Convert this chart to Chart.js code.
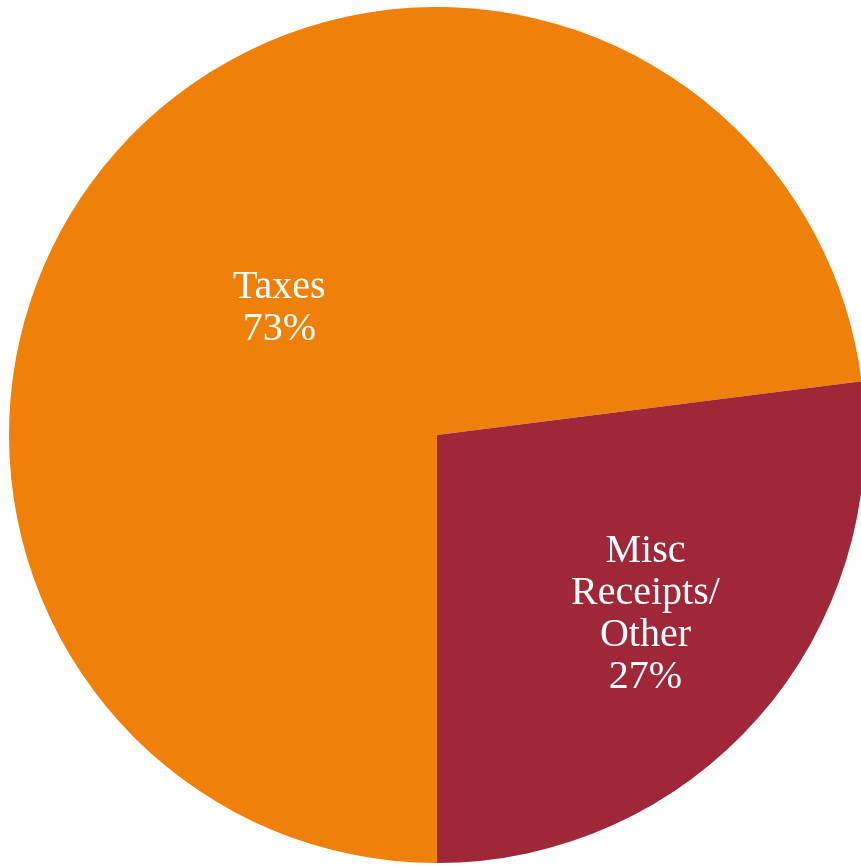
<!DOCTYPE html>
<html>
<head>
<meta charset="utf-8">
<script src="https://cdn.jsdelivr.net/npm/chart.js@4.4.1/dist/chart.umd.min.js"></script>
<style>
  html, body { margin: 0; padding: 0; background: #fff; overflow: hidden; }
  #wrap { position: absolute; left: 0; top: 0; width: 874px; height: 870px; }
</style>
</head>
<body>
<div id="wrap"><canvas id="pieChart"></canvas></div>
<script>
const categories = ['Taxes', 'Misc Receipts/Other'];
const labelLines = [['Taxes', '73%'], ['Misc', 'Receipts/', 'Other', '27%']];
const shares = [73, 27];
const sliceColors = ['#EF800A', '#A02738'];

// label distance from centre (fraction of radius) and a small pixel nudge
const labelRadius = [0.485, 0.64];
const labelNudge = [[-2, 8], [3, -4]];

const insideLabels = {
  id: 'insideLabels',
  afterDatasetsDraw(chart) {
    const ctx = chart.ctx;
    const meta = chart.getDatasetMeta(0);
    ctx.save();
    ctx.fillStyle = '#ffffff';
    ctx.font = '40px "Liberation Serif", serif';
    ctx.textAlign = 'center';
    ctx.textBaseline = 'alphabetic';
    const lineH = 42;
    const capHalf = 13;
    meta.data.forEach((arc, i) => {
      const p = arc.getProps(['x', 'y', 'startAngle', 'endAngle', 'outerRadius'], true);
      const mid = (p.startAngle + p.endAngle) / 2;
      const r = p.outerRadius * labelRadius[i];
      const cx = p.x + Math.cos(mid) * r + labelNudge[i][0];
      const cy = p.y + Math.sin(mid) * r + labelNudge[i][1];
      const lines = labelLines[i];
      const first = cy + capHalf - (lines.length - 1) * lineH / 2;
      lines.forEach((t, k) => ctx.fillText(t, cx, first + k * lineH));
    });
    ctx.restore();
  }
};

new Chart(document.getElementById('pieChart'), {
  type: 'pie',
  data: {
    labels: categories,
    datasets: [{ data: shares, backgroundColor: sliceColors, borderWidth: 0 }]
  },
  options: {
    responsive: true,
    maintainAspectRatio: false,
    animation: false,
    rotation: 180,
    layout: { padding: 7 },
    plugins: { legend: { display: false }, tooltip: { enabled: false } }
  },
  plugins: [insideLabels]
});
</script>
</body>
</html>
